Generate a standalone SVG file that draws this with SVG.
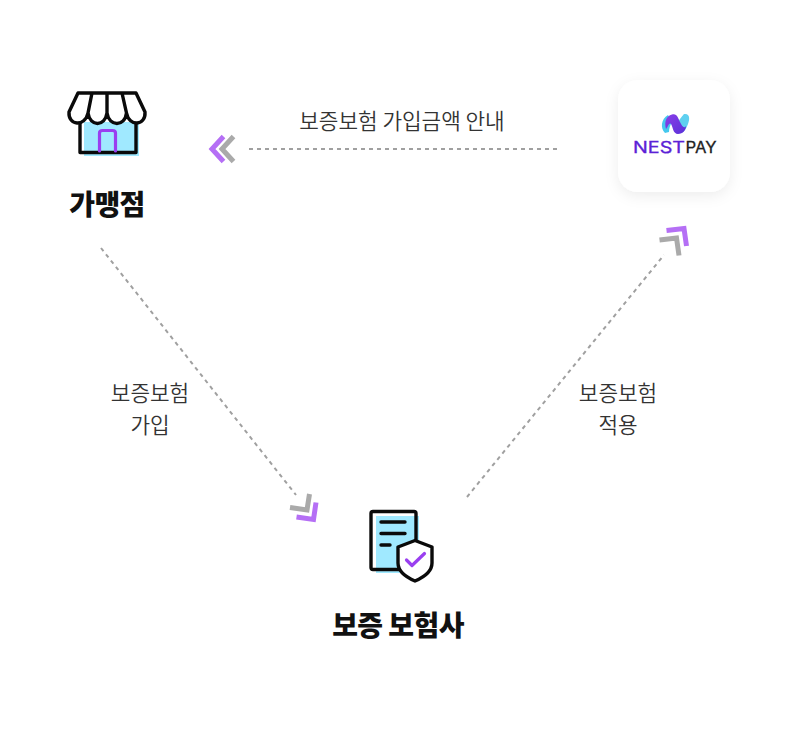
<svg xmlns="http://www.w3.org/2000/svg" width="786" height="734" viewBox="0 0 786 734">
<defs>
<style>
.lbl{font-family:"Noto Sans CJK KR","Noto Sans",sans-serif;font-size:21.300px;font-weight:350;fill:#333;text-anchor:middle}
.ttl{font-family:"Noto Sans CJK KR","Noto Sans",sans-serif;font-size:28px;font-weight:900;fill:#111;text-anchor:middle;letter-spacing:-0.6px}
.dash{fill:none;stroke:#a0a0a0;stroke-width:2;stroke-dasharray:4 4}
.chevP{fill:none;stroke:#b56ff5;stroke-width:5}
.chevG{fill:none;stroke:#aaa;stroke-width:5}
.ink{fill:none;stroke:#0a0a0a;stroke-width:3.4;stroke-linejoin:round;stroke-linecap:round}
.vio{fill:none;stroke:#9a3ff0;stroke-width:3.2;stroke-linejoin:round;stroke-linecap:round}
.nest{font-family:"Inter","Liberation Sans",sans-serif;font-size:16px;font-weight:400}
</style>
<filter id="sh" x="-30%" y="-30%" width="160%" height="160%"><feDropShadow dx="0" dy="4" stdDeviation="7" flood-color="#000" flood-opacity="0.07"/></filter>
<linearGradient id="np" x1="0" y1="0" x2="1" y2="1"><stop offset="0" stop-color="#8a3fe8"/><stop offset="1" stop-color="#5a30d8"/></linearGradient>
</defs>
<rect width="786" height="734" fill="#fff"/>
<g id="connectors">
<path class="dash" d="M249 149H557"/>
<path class="chevG" d="M233.500 136.500L222 149L233.500 161.500"/>
<path class="chevP" d="M223.500 136.500L212 149L223.500 161.500"/>
<path class="dash" d="M101 248L296 495"/>
<path class="chevG" d="M290 507.500L307 510L309.500 494"/>
<path class="chevP" d="M296.500 517L313.500 519.500L316 502.500"/>
<path class="dash" d="M467 497L664 255"/>
<path class="chevG" d="M659.500 240L676.500 238L679 255.500"/>
<path class="chevP" d="M666.500 230.500L684 228.500L686.500 246"/>
<text class="lbl" x="402" y="129">보증보험 가입금액 안내</text>
<text class="lbl" x="150" y="401">보증보험</text>
<text class="lbl" x="150" y="433">가입</text>
<text class="lbl" x="618" y="401">보증보험</text>
<text class="lbl" x="618" y="433">적용</text>
</g>
<g id="store">
<rect x="84" y="122" width="55" height="34" fill="#a0e9ff"/>
<path class="ink" d="M80 122V152.500H136V122"/>
<path class="vio" d="M99.500 151V133Q99.500 130.500 102.500 130.500H112.500Q115.500 130.500 115.500 133V151"/>
<path d="M78 93H136L145 112C146 126 129 127 126.500 113C125 127 109 127 107 113C105 127 90 127 88 113C85 127 68 126 69 112Z" fill="#fff"/>
<path class="ink" d="M78 93H136L145 112C146 126 129 127 126.500 113C125 127 109 127 107 113C105 127 90 127 88 113C85 127 68 126 69 112ZM88 113L92 93M107 113V93M126.500 113L122 93"/>
<text class="ttl" x="107" y="215">가맹점</text>
</g>
<g id="nestpay">
<rect x="618" y="80" width="112" height="112" rx="20" fill="#fff" filter="url(#sh)"/>
<path d="M665 133C660 128 661 119 668 115L672 122C670 125 669 129 669 132Z" fill="#45c8ee"/>
<path d="M684 114C690 113 690 119 688 124C686 129 684 132 681 133L676 124C679 121 681 117 684 114Z" fill="#5fd0f0"/>
<path d="M666 129C664 122 666 116 672 114.500C677 113 678 118 680 122C682 126 684 129 686 126C686 130 683 134 678 134C673 134 673 127 671 124C669 122 668 127 666 129Z" fill="url(#np)"/>
<text class="nest" x="633" y="152.500" fill="#5b21d6" stroke="#5b21d6" stroke-width="0.3" textLength="52" lengthAdjust="spacingAndGlyphs">NEST</text>
<text class="nest" x="685.500" y="152.500" fill="#222" stroke="#222" stroke-width="0.3" textLength="31" lengthAdjust="spacingAndGlyphs">PAY</text>
</g>
<g id="insurer">
<rect x="376" y="516" width="43" height="57" fill="#a0e9ff"/>
<rect x="371" y="511.500" width="45" height="58" rx="2" fill="none" stroke="#0a0a0a" stroke-width="3.4"/>
<path class="ink" d="M381 522H405M381 533.500H405M381 545H390"/>
<path d="M415 540.500L432 547V563C432 572 422 578 415 581C408 578 398 572 398 563V547Z" fill="#fff" stroke="#0a0a0a" stroke-width="3.400" stroke-linejoin="round"/>
<path class="vio" d="M406.500 560L412 565.500L424.500 553.500"/>
<text class="ttl" x="398" y="636">보증 보험사</text>
</g>
</svg>
